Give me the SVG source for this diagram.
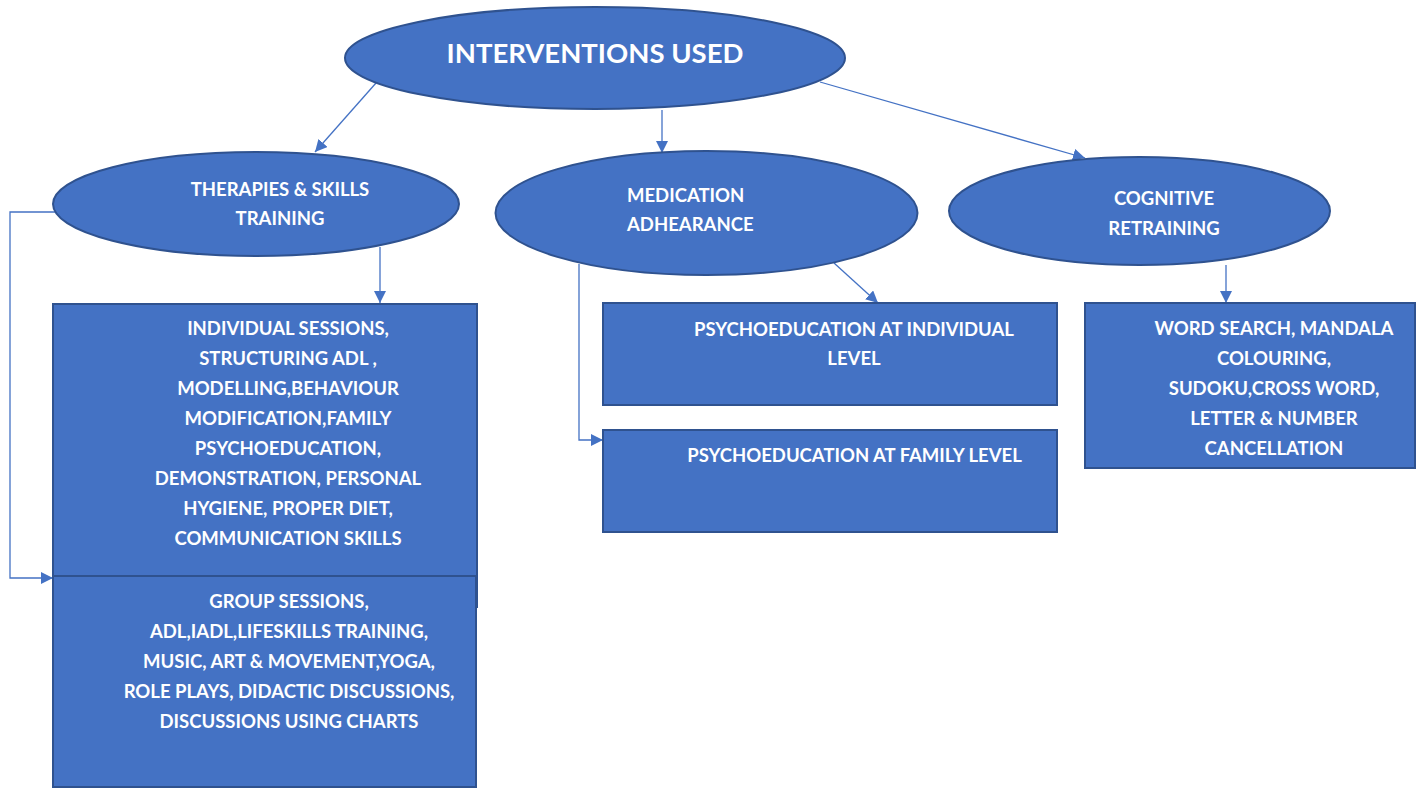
<svg xmlns="http://www.w3.org/2000/svg" width="1418" height="788" viewBox="0 0 1418 788">
<defs>
<marker id="ah" viewBox="0 0 12 12" refX="12" refY="6" markerWidth="12" markerHeight="12" markerUnits="userSpaceOnUse" orient="auto">
<path d="M0,0 L12,6 L0,12 Z" fill="#4472C4"/>
</marker>
<style>
.shape{fill:#4472C4;stroke:#2F528F;stroke-width:2}
.t{font-family:Lato,"Open Sans","Liberation Sans",sans-serif;font-weight:bold;fill:#FFFFFF;font-size:18.5px}
.c{text-anchor:middle}
.conn{fill:none;stroke:#4472C4;stroke-width:1.3;marker-end:url(#ah)}
</style>
</defs>
<rect width="1418" height="788" fill="#FFFFFF"/>
<g id="connectors">
<line class="conn" x1="376" y1="83" x2="315" y2="152"/>
<line class="conn" x1="662" y1="110" x2="662" y2="153"/>
<line class="conn" x1="820" y1="82" x2="1085" y2="158"/>
<line class="conn" x1="380" y1="247" x2="380" y2="303"/>
<polyline class="conn" points="56,212 10,212 10,578 53,578"/>
<line class="conn" x1="834" y1="263" x2="878" y2="303"/>
<polyline class="conn" points="579,264 579,440 603,440"/>
<line class="conn" x1="1226" y1="265" x2="1226" y2="303"/>
</g>
<g id="node-main">
<ellipse class="shape" cx="595" cy="58" rx="250" ry="51"/>
<text class="t c" x="595" y="63" style="font-size:27.5px">INTERVENTIONS USED</text>
</g>
<g id="node-therapies">
<ellipse class="shape" cx="256" cy="204" rx="203" ry="52"/>
<text class="t c" x="280" y="196">THERAPIES &amp; SKILLS</text>
<text class="t c" x="280" y="225">TRAINING</text>
</g>
<g id="node-medication">
<ellipse class="shape" cx="706.5" cy="213" rx="211" ry="62"/>
<text class="t" x="627" y="202">MEDICATION</text>
<text class="t" x="627" y="231">ADHEARANCE</text>
</g>
<g id="node-cognitive">
<ellipse class="shape" cx="1139.5" cy="211" rx="190.5" ry="54"/>
<text class="t c" x="1164" y="205">COGNITIVE</text>
<text class="t c" x="1164" y="235">RETRAINING</text>
</g>
<g id="node-individual">
<rect class="shape" x="53" y="304" width="424" height="303"/>
<text class="t c" x="288" y="335">INDIVIDUAL SESSIONS,</text>
<text class="t c" x="288" y="365">STRUCTURING ADL ,</text>
<text class="t c" x="288" y="395">MODELLING,BEHAVIOUR</text>
<text class="t c" x="288" y="425">MODIFICATION,FAMILY</text>
<text class="t c" x="288" y="455">PSYCHOEDUCATION,</text>
<text class="t c" x="288" y="485">DEMONSTRATION, PERSONAL</text>
<text class="t c" x="288" y="515">HYGIENE, PROPER DIET,</text>
<text class="t c" x="288" y="545">COMMUNICATION SKILLS</text>
</g>
<g id="node-group">
<rect class="shape" x="53" y="576" width="423" height="211"/>
<text class="t c" x="289" y="608">GROUP SESSIONS,</text>
<text class="t c" x="289" y="638">ADL,IADL,LIFESKILLS TRAINING,</text>
<text class="t c" x="289" y="668">MUSIC, ART &amp; MOVEMENT,YOGA,</text>
<text class="t c" x="289" y="698">ROLE PLAYS, DIDACTIC DISCUSSIONS,</text>
<text class="t c" x="289" y="728">DISCUSSIONS USING CHARTS</text>
</g>
<g id="node-psy-individual">
<rect class="shape" x="603" y="303" width="454" height="102"/>
<text class="t c" x="854" y="336">PSYCHOEDUCATION AT INDIVIDUAL</text>
<text class="t c" x="854" y="365">LEVEL</text>
</g>
<g id="node-psy-family">
<rect class="shape" x="603" y="430" width="454" height="102"/>
<text class="t c" x="854.5" y="462">PSYCHOEDUCATION AT FAMILY LEVEL</text>
</g>
<g id="node-cognitive-tasks">
<rect class="shape" x="1085" y="303" width="330" height="165"/>
<text class="t c" x="1274" y="335">WORD SEARCH, MANDALA</text>
<text class="t c" x="1274" y="365">COLOURING,</text>
<text class="t c" x="1274" y="395">SUDOKU,CROSS WORD,</text>
<text class="t c" x="1274" y="425">LETTER &amp; NUMBER</text>
<text class="t c" x="1274" y="455">CANCELLATION</text>
</g>
</svg>
